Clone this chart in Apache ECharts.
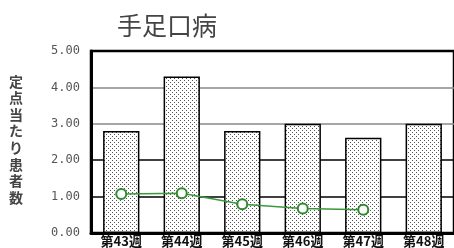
<!DOCTYPE html>
<html><head><meta charset="utf-8">
<script src="https://cdn.jsdelivr.net/npm/echarts@6/dist/echarts.min.js"></script>
<style>html,body{margin:0;padding:0;background:#fff}#c{width:454px;height:248px}</style>
</head><body><div id="c"></div>
<script>
const categories = ['第43週','第44週','第45週','第46週','第47週','第48週'];
const barValues = [2.80, 4.30, 2.80, 3.00, 2.62, 3.00];
const lineValues = [1.07, 1.09, 0.79, 0.67, 0.64, null];
const yTicks = [0, 1, 2, 3, 4, 5];
const chartTitle = '手足口病';
const yName = '定点当たり患者数';

const pc = document.createElement('canvas');
pc.width = 4; pc.height = 4;
const g = pc.getContext('2d');
g.fillStyle = '#fff'; g.fillRect(0,0,4,4);
g.fillStyle = '#555';
g.fillRect(0,0,1,1); g.fillRect(2,2,1,1);

const chart = echarts.init(document.getElementById('c'), null, {renderer:'canvas'});
chart.setOption({
  animation:false,
  backgroundColor:'#fff',
  title:{text:chartTitle,left:112,top:8,textStyle:{fontFamily:'Noto Sans CJK JP',fontSize:25,fontWeight:'normal',color:'#444'}},
  graphic:[{type:'text',left:9,top:73,style:{text:yName.split('').join('\n'),fontFamily:'Noto Sans CJK JP',fontSize:14,lineHeight:16.6,fontWeight:'bold',fill:'#444'}}],
  grid:{left:91,top:51,width:366,height:183,show:true,borderColor:'#000',borderWidth:2.5,backgroundColor:'transparent'},
  xAxis:{type:'category',data:categories,
    axisLine:{lineStyle:{color:'#000',width:3}},axisTick:{show:false},
    axisLabel:{margin:2,fontFamily:'Noto Sans CJK JP',fontSize:13,fontWeight:'bold',color:'#111',interval:0}},
  yAxis:{type:'value',min:yTicks[0],max:yTicks[yTicks.length-1],interval:1,
    axisLine:{show:true,lineStyle:{color:'#000',width:3}},axisTick:{show:false},
    axisLabel:{margin:11,fontFamily:'DejaVu Sans Mono',fontSize:12,color:'#555',formatter:v=>v.toFixed(2)},
    splitLine:{show:true,lineStyle:{color:['#000','#000','#000','#888','#888','#000'],width:1.5}}},
  series:[
    {type:'bar',data:barValues,barCategoryGap:'40%',
      itemStyle:{color:{image:pc,repeat:'repeat'},borderColor:'#000',borderWidth:1.5}},
    {type:'line',data:lineValues,symbol:'circle',symbolSize:10,showAllSymbol:true,
      lineStyle:{color:'#3a9a3a',width:1.5},
      itemStyle:{color:'#fff',borderColor:'#2d8a2d',borderWidth:2}}
  ]
});
</script></body></html>
